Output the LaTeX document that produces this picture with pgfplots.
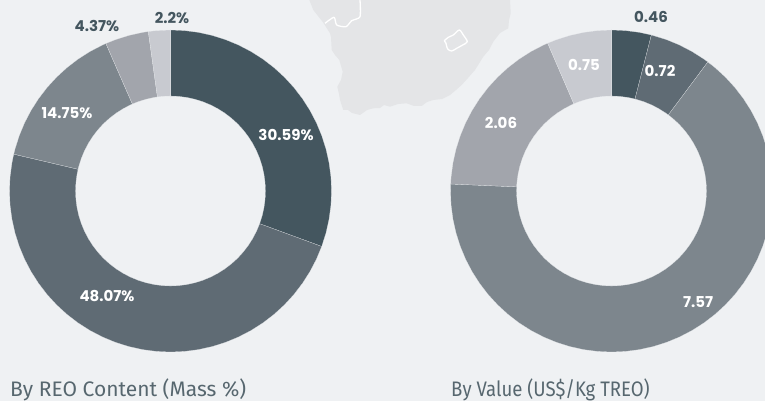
\documentclass[border=0pt]{standalone}
\usepackage{fontspec}
\setmainfont{Poppins}
\newfontfamily\capfont{Fira Sans}
\usepackage{pgfplots}
\pgfplotsset{compat=1.18}
\definecolor{bg}{HTML}{EFF1F3}
\definecolor{mapc}{HTML}{E4E5E7}
\definecolor{s1}{HTML}{44565F}
\definecolor{s2}{HTML}{5F6B74}
\definecolor{s3}{HTML}{7D868D}
\definecolor{s4}{HTML}{A2A5AC}
\definecolor{s5}{HTML}{C8CAD0}
\pgfplotsset{
  page/.style={scale only axis, width=765pt, height=401pt, hide axis, clip=true},
  donut/.style={page, data cs=polar, ymin=-210, ymax=191},
  slice/.style={fill=#1, draw=bg, line width=0.1pt, opacity=1},
}
\newcommand{\lab}[3]{\node[font=\fontsize{15}{15}\selectfont\bfseries, text=#3, inner sep=0pt] at (axis cs:#1) {#2};}
\begin{document}
\begin{tikzpicture}
% page, map and captions, in pixels of the reference
\begin{axis}[page, xmin=0, xmax=765, ymin=0, ymax=401, y dir=reverse]
\addplot[fill=bg, draw=none] coordinates {(0,0)(765,0)(765,401)(0,401)} --cycle;
\addplot[fill=mapc, draw=none] coordinates {
  (309.3,0)(313.3,10)(318,16)(323.3,22.7)(330,33.3)(331,37)(331.7,50)(335,55)(339.3,60)(342.7,71.7)
  (341,80)(337.3,86.7)(339,94)(340,100)(343.3,110)(348,110)(352,113)(360,115)(367,110)(373.3,108.3)
  (380,108)(384,105)(390,106.7)(398,104)(406.7,103.3)(414,106)(421.7,106)(427,102)(433.3,100)
  (442,99)(450,95)(456,90)(461.7,85)(468,78)(475,70)(480,62)(483.3,56.7)(489,50)(493.3,41.7)
  (500,33)(508.3,28.3)(509,20)(510.7,13.3)(510,0)} --cycle;
\addplot[draw=white, line width=1.3pt, line join=round, smooth, tension=0.4] coordinates {
  (360,0)(360,16.7)(351.7,20.7)(346,26.7)(336.7,25)(334,17.3)(325,23.3)};
\addplot[draw=white, line width=1.3pt, line join=round, smooth, tension=0.5] coordinates {
  (444.3,40.7)(448.3,37.3)(453.3,35)(459.3,30)(463.3,35)(467.3,41.7)(462.7,45)(456.7,48.3)(451.7,51)(447.7,49)(446,43.3)} --cycle;
\node[font=\capfont\fontsize{21}{21}\selectfont, text=s1!90!white, anchor=base west, inner sep=0pt] at (axis cs:10,396.5) {By REO Content (Mass \%)};
\node[font=\capfont\fontsize{21}{21}\selectfont, text=s1!90!white, anchor=base west, inner sep=0pt] at (axis cs:451,396.5) {\scalebox{0.885}[1]{By Value (US\$/Kg TREO)}};
\end{axis}
% By REO Content: centre at pixel (170.5,191)
\begin{axis}[donut, xmin=-170.5, xmax=594.5]
\addplot[slice=s1] coordinates {
  (90,161)(85,161)(80,161)(75,161)(70,161)(65,161)(60,161)(55,161)(50,161)(45,161)(40,161)(35,161)(30,161)(25,161)(20,161)(15,161)(10,161)(5,161)(0,161)(-5,161)(-10,161)(-15,161)(-20,161)(-20.15,161)
  (-20.15,95)(-20,95)(-15,95)(-10,95)(-5,95)(0,95)(5,95)(10,95)(15,95)(20,95)(25,95)(30,95)(35,95)(40,95)(45,95)(50,95)(55,95)(60,95)(65,95)(70,95)(75,95)(80,95)(85,95)(90,95)} --cycle;
\addplot[slice=s2] coordinates {
  (-20.15,161)(-25,161)(-30,161)(-35,161)(-40,161)(-45,161)(-50,161)(-55,161)(-60,161)(-65,161)(-70,161)(-75,161)(-80,161)(-85,161)(-90,161)(-95,161)(-100,161)(-105,161)(-110,161)(-115,161)(-120,161)(-125,161)(-130,161)(-135,161)(-140,161)(-145,161)(-150,161)(-155,161)(-160,161)(-165,161)(-170,161)(-175,161)(-180,161)(-185,161)(-190,161)(-193.23,161)
  (-193.23,95)(-190,95)(-185,95)(-180,95)(-175,95)(-170,95)(-165,95)(-160,95)(-155,95)(-150,95)(-145,95)(-140,95)(-135,95)(-130,95)(-125,95)(-120,95)(-115,95)(-110,95)(-105,95)(-100,95)(-95,95)(-90,95)(-85,95)(-80,95)(-75,95)(-70,95)(-65,95)(-60,95)(-55,95)(-50,95)(-45,95)(-40,95)(-35,95)(-30,95)(-25,95)(-20.15,95)} --cycle;
\addplot[slice=s3] coordinates {
  (-193.23,161)(-195,161)(-200,161)(-205,161)(-210,161)(-215,161)(-220,161)(-225,161)(-230,161)(-235,161)(-240,161)(-245,161)(-246.34,161)
  (-246.34,95)(-245,95)(-240,95)(-235,95)(-230,95)(-225,95)(-220,95)(-215,95)(-210,95)(-205,95)(-200,95)(-195,95)(-193.23,95)} --cycle;
\addplot[slice=s4] coordinates {
  (-246.34,161)(-250,161)(-255,161)(-260,161)(-262.07,161)
  (-262.07,95)(-260,95)(-255,95)(-250,95)(-246.34,95)} --cycle;
\addplot[slice=s5] coordinates {
  (-262.07,161)(-265,161)(-270,161)
  (-270,95)(-265,95)(-262.07,95)} --cycle;
\lab{115.5,56}{30.59\%}{white}
\lab{-63.5,-105}{48.07\%}{white}
\lab{-103.5,78}{14.75\%}{white}
\lab{-73.5,165}{4.37\%}{s1}
\lab{1.5,173}{2.2\%}{s1}
\end{axis}
% By Value: centre at pixel (611.5,191)
\begin{axis}[donut, xmin=-611.5, xmax=153.5]
\addplot[slice=s1] coordinates {
  (90,161)(85,161)(80,161)(75.67,161)
  (75.67,95)(80,95)(85,95)(90,95)} --cycle;
\addplot[slice=s2] coordinates {
  (75.67,161)(70,161)(65,161)(60,161)(55,161)(53.25,161)
  (53.25,95)(55,95)(60,95)(65,95)(70,95)(75.67,95)} --cycle;
\addplot[slice=s3] coordinates {
  (53.25,161)(50,161)(45,161)(40,161)(35,161)(30,161)(25,161)(20,161)(15,161)(10,161)(5,161)(0,161)(-5,161)(-10,161)(-15,161)(-20,161)(-25,161)(-30,161)(-35,161)(-40,161)(-45,161)(-50,161)(-55,161)(-60,161)(-65,161)(-70,161)(-75,161)(-80,161)(-85,161)(-90,161)(-95,161)(-100,161)(-105,161)(-110,161)(-115,161)(-120,161)(-125,161)(-130,161)(-135,161)(-140,161)(-145,161)(-150,161)(-155,161)(-160,161)(-165,161)(-170,161)(-175,161)(-180,161)(-182.49,161)
  (-182.49,95)(-180,95)(-175,95)(-170,95)(-165,95)(-160,95)(-155,95)(-150,95)(-145,95)(-140,95)(-135,95)(-130,95)(-125,95)(-120,95)(-115,95)(-110,95)(-105,95)(-100,95)(-95,95)(-90,95)(-85,95)(-80,95)(-75,95)(-70,95)(-65,95)(-60,95)(-55,95)(-50,95)(-45,95)(-40,95)(-35,95)(-30,95)(-25,95)(-20,95)(-15,95)(-10,95)(-5,95)(0,95)(5,95)(10,95)(15,95)(20,95)(25,95)(30,95)(35,95)(40,95)(45,95)(50,95)(53.25,95)} --cycle;
\addplot[slice=s4] coordinates {
  (-182.49,161)(-185,161)(-190,161)(-195,161)(-200,161)(-205,161)(-210,161)(-215,161)(-220,161)(-225,161)(-230,161)(-235,161)(-240,161)(-245,161)(-246.64,161)
  (-246.64,95)(-245,95)(-240,95)(-235,95)(-230,95)(-225,95)(-220,95)(-215,95)(-210,95)(-205,95)(-200,95)(-195,95)(-190,95)(-185,95)(-182.49,95)} --cycle;
\addplot[slice=s5] coordinates {
  (-246.64,161)(-250,161)(-255,161)(-260,161)(-265,161)(-270,161)
  (-270,95)(-265,95)(-260,95)(-255,95)(-250,95)(-246.64,95)} --cycle;
\lab{39.5,174}{0.46}{s1}
\lab{48.5,120}{0.72}{white}
\lab{-27.5,126}{0.75}{white}
\lab{-110.5,68}{2.06}{white}
\lab{86.5,-111}{7.57}{white}
\end{axis}
\end{tikzpicture}
\end{document}
